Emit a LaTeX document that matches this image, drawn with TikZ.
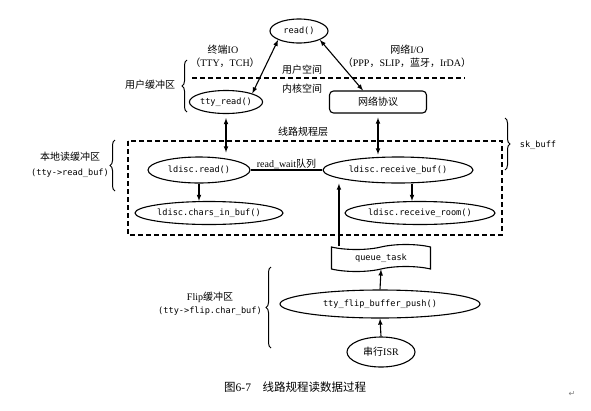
\documentclass[tikz,border=0pt]{standalone}
\usepackage{fontspec}
\setmainfont{Liberation Serif}
\newfontfamily\cjk{Noto Sans CJK SC}
\newfontfamily\codefont{DejaVu Sans Mono}
\newfontfamily\symbfont{DejaVu Sans}
\usepackage{tikz}
\usetikzlibrary{calc}
\usetikzlibrary{shapes}
\usetikzlibrary{decorations.pathreplacing}
\newcommand{\cd}[1]{{\codefont\fontsize{8.6}{10}\selectfont #1}}
\newcommand{\zh}[1]{{\cjk #1}}

\begin{document}
\begin{tikzpicture}[>=latex, x=1pt, y=-1pt, font=\fontsize{10}{12}\selectfont,
		func/.style={ellipse, draw, line width=1.1pt, inner sep=0pt},
		lbl/.style={inner sep=0pt},
		flow/.style={line width=1.1pt, ->},
		both/.style={line width=1.1pt, <->},
		brc/.style={line width=1pt, decorate, decoration={brace, amplitude=5pt}},
		sep/.style={line width=1.1pt, dash pattern=on 5pt off 3pt}]
			\useasboundingbox (0,0) rectangle (591,410);
			%user space
			\node at (299,31) (read) [func, minimum width=58pt, minimum height=24pt] {\cd{read()}};
			\node [lbl] at (223,50) (ttyio) {\zh{终端}IO};
			\node [lbl] at (225,63) (ttyio2) {\zh{（}TTY\zh{，}TCH\zh{）}};
			\node [lbl] at (407,50) (netio) {\zh{网络}I/O};
			\node [lbl] at (407,63) (netio2) {\zh{（}PPP\zh{，}SLIP\zh{，蓝牙，}IrDA\zh{）}};
			\node [lbl] at (302,70) (uspace) {\zh{用户空间}};
			\draw [sep] (192,78) -- (465,78);
			\node [lbl] at (302,89) (kspace) {\zh{内核空间}};
			%kernel side
			\node at (226,102) (ttyread) [func, minimum width=66pt, minimum height=23pt] {\cd{tty\_read()}};
			\node at (378,102) (net) [rectangle, rounded corners=4pt, draw, line width=1.1pt, minimum width=97pt, minimum height=22pt] {\zh{网络协议}};
			\draw [both] (read.south west) -- (ttyread.north east);
			\draw [both] (read.south east) -- ([xshift=-15pt]net.north);
			%user buffer
			\draw [brc] (187,112) -- (187,60);
			\node [lbl] at (150,85) (ubuf) {\zh{用户缓冲区}};
			%line discipline
			\node [lbl] at (303,132) (ldisc) {\zh{线路规程层}};
			\draw [sep] (128,141) rectangle (502,235);
			\node at (199,170) (lread) [func, minimum width=102pt, minimum height=26pt] {\cd{ldisc.read()}};
			\node at (398,170) (rbuf) [func, minimum width=150pt, minimum height=26pt] {\cd{ldisc.receive\_buf()}};
			\node at (209,213) (chars) [func, minimum width=148pt, minimum height=23pt] {\cd{ldisc.chars\_in\_buf()}};
			\node at (420,213) (room) [func, minimum width=150pt, minimum height=23pt] {\cd{ldisc.receive\_room()}};
			\draw [both, shorten <=4pt, shorten >=4pt] (ttyread.south) -- (ttyread.south |- lread.north);
			\draw [both, shorten <=4pt, shorten >=2pt] (net.south) -- (net.south |- rbuf.north);
			\draw [line width=1.1pt] (lread.east) -- (rbuf.west) node [midway, above=1pt, lbl] (wait) {read\_wait\zh{队列}};
			\draw [flow] (lread.south) -- (lread.south |- chars.north);
			\draw [flow] ([xshift=14pt]rbuf.south) -- ([xshift=14pt]rbuf.south |- room.north);
			%local buffer
			\draw [brc] (115,191) -- (115,140);
			\node [lbl] at (70,157) (lbuf) {\zh{本地读缓冲区}};
			\node [lbl] at (70,173) (lbuf2) {\cd{(tty->read\_buf)}};
			%sk_buff
			\draw [brc] (505,118) -- (505,170);
			\node [lbl] at (538,145) (skb) {\cd{sk\_buff}};
			%flip side
			\node at (381,258) (queue) [tape, draw, line width=1.1pt, minimum width=99pt, minimum height=27pt, inner sep=0pt] {\cd{queue\_task}};
			\node at (380,304) (flip) [func, minimum width=200pt, minimum height=28pt] {\cd{tty\_flip\_buffer\_push()}};
			\node at (381,352) (isr) [func, minimum width=68pt, minimum height=30pt] {\zh{串行}ISR};
			\draw [flow] ([xshift=8pt]queue.north west) -- ([xshift=8pt]queue.north west |- rbuf.south);
			\draw [flow] (flip.north) -- (queue.south);
			\draw [flow] (isr.north) -- (flip.south);
			%flip buffer
			\draw [brc] (271,348) -- (271,267);
			\node [lbl] at (210,297) (fbuf) {Flip\zh{缓冲区}};
			\node [lbl] at (210,311) (fbuf2) {\cd{(tty->flip.char\_buf)}};
			%caption
			\node [lbl, anchor=west] at (224,387) (cap) {\fontsize{11.5}{13}\selectfont\zh{图}6-7\quad\zh{线路规程读数据过程}};
			\node [lbl, text=gray] at (572,394) (ret) {\symbfont\fontsize{8}{9}\selectfont ↵};
		\end{tikzpicture}
\end{document}
